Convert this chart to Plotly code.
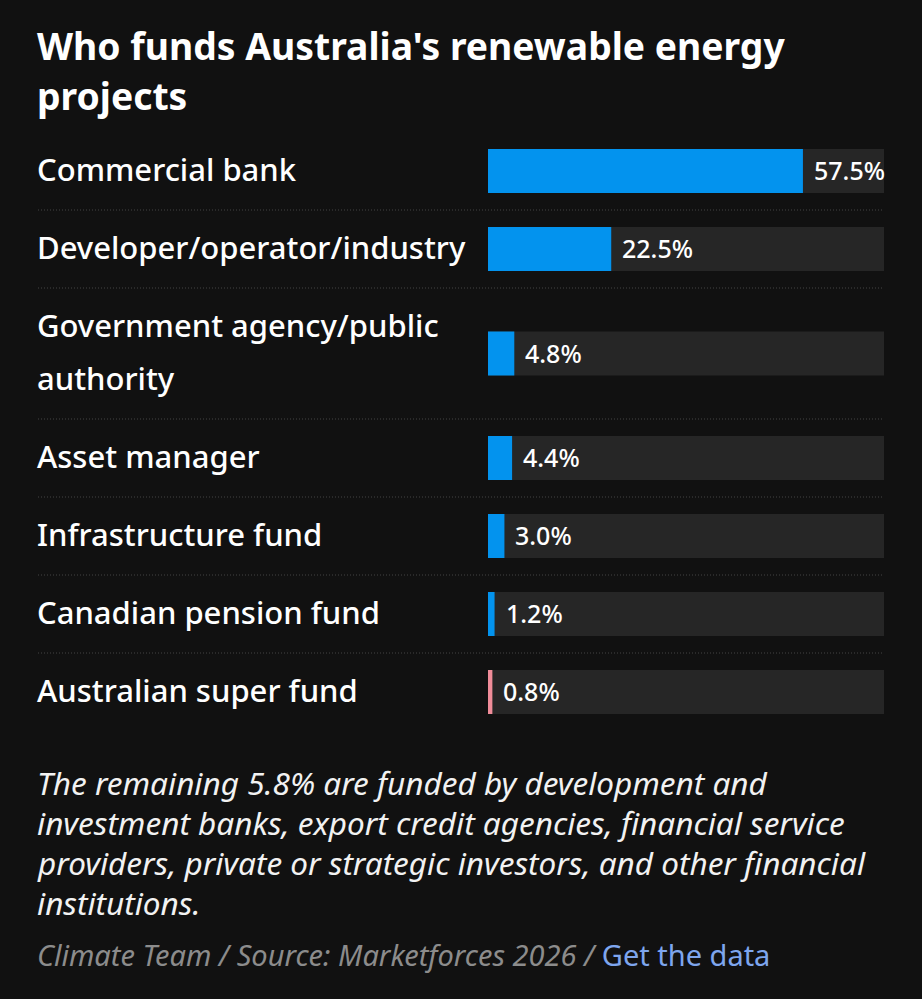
import plotly.graph_objects as go

# ---------------- data ----------------
categories = [
    "Commercial bank",
    "Developer/operator/industry",
    "Government agency/public<br>authority",
    "Asset manager",
    "Infrastructure fund",
    "Canadian pension fund",
    "Australian super fund",
]
shares = [57.5, 22.5, 4.8, 4.4, 3.0, 1.2, 0.8]
value_labels = ["57.5%", "22.5%", "4.8%", "4.4%", "3.0%", "1.2%", "0.8%"]
highlight = "Australian super fund"

title_lines = ["Who funds Australia's renewable energy", "projects"]
note_lines = [
    "The remaining 5.8% are funded by development and",
    "investment banks, export credit agencies, financial service",
    "providers, private or strategic investors, and other financial",
    "institutions.",
]
source_text = "Climate Team / Source: Marketforces 2026 / "
link_text = "Get the data"

# ---------------- layout constants ----------------
W, H = 922, 999
LEFT, RIGHT, TRACK_LEFT = 38, 884, 488
ROWS_TOP = 132
ROW_H, LINE_EXTRA = 78, 53
BAR_T = 44
XMAX = 72.3

BG = "#111111"
TRACK = "#262626"
BLUE = "#0393ee"
PINK = "#f08c99"
FONT = "Noto Sans"
LSHIFT = -3

n_lines = [c.count("<br>") + 1 for c in categories]
heights = [ROW_H + LINE_EXTRA * (k - 1) for k in n_lines]
centers, bounds = [], []
acc = ROWS_TOP
for h in heights:
    centers.append(acc + h / 2)
    acc += h
    bounds.append(acc)
ROWS_BOTTOM = acc
bounds = bounds[:-1]

def py(p):
    return (ROWS_BOTTOM - p) / (ROWS_BOTTOM - ROWS_TOP)

colors = [PINK if c == highlight else BLUE for c in categories]

fig = go.Figure()
fig.add_trace(go.Bar(
    x=[XMAX] * len(categories), y=centers, orientation="h", width=BAR_T,
    marker=dict(color=TRACK, line=dict(width=0)), hoverinfo="skip", showlegend=False,
))
fig.add_trace(go.Bar(
    x=shares, y=centers, orientation="h", width=BAR_T,
    marker=dict(color=colors, line=dict(width=0)), showlegend=False,
    hovertext=[c.replace("<br>", " ") for c in categories], hoverinfo="text+x",
))

annotations = []
# value labels
for v, lab, yc in zip(shares, value_labels, centers):
    annotations.append(dict(
        x=v, y=yc - 1, xref="x", yref="y", text=lab, showarrow=False,
        xanchor="left", yanchor="middle", xshift=9,
        font=dict(family=FONT, size=25, color="white", weight=500),
    ))
# category labels
for c, yc in zip(categories, centers):
    parts = c.split("<br>")
    k = len(parts)
    for i, part in enumerate(parts):
        off = (i - (k - 1) / 2) * LINE_EXTRA
        annotations.append(dict(
            x=0, y=yc - 2 + off, xref="paper", yref="y", text=part, showarrow=False,
            xanchor="left", yanchor="middle", xshift=LSHIFT,
            font=dict(family=FONT, size=31, color="white", weight=500),
        ))
# title
for i, t in enumerate(title_lines):
    annotations.append(dict(
        x=0, y=py(46 + 49 * i), xref="paper", yref="paper", text="<b>" + t + "</b>",
        showarrow=False, xanchor="left", yanchor="middle", xshift=LSHIFT,
        font=dict(family=FONT, size=37.3, color="white"),
    ))
# note
for i, t in enumerate(note_lines):
    annotations.append(dict(
        x=0, y=py(782 + 40 * i), xref="paper", yref="paper", text="<i>" + t + "</i>",
        showarrow=False, xanchor="left", yanchor="middle", xshift=LSHIFT,
        font=dict(family=FONT, size=31.5, color="#f2f2f2"),
    ))
# source
annotations.append(dict(
    x=0, y=py(954), xref="paper", yref="paper",
    text="<i>" + source_text + "</i><span style='color:#7ea6ee'>" + link_text + "</span>",
    showarrow=False, xanchor="left", yanchor="middle", xshift=LSHIFT,
    font=dict(family=FONT, size=29, color="#8c8c8c"),
))

shapes = [
    dict(type="line", xref="paper", yref="y", x0=0, x1=1, y0=b, y1=b,
         line=dict(color="#444444", width=1, dash="1px,2px"))
    for b in bounds
]

fig.update_layout(
    width=W, height=H,
    margin=dict(l=LEFT, r=W - RIGHT, t=ROWS_TOP, b=H - ROWS_BOTTOM, pad=0),
    paper_bgcolor=BG, plot_bgcolor=BG,
    barmode="overlay",
    xaxis=dict(domain=[(TRACK_LEFT - LEFT) / (RIGHT - LEFT), 1], range=[0, XMAX],
               showgrid=False, zeroline=False, showticklabels=False, fixedrange=True),
    yaxis=dict(range=[ROWS_BOTTOM, ROWS_TOP], showgrid=False, zeroline=False,
               showticklabels=False, fixedrange=True),
    annotations=annotations, shapes=shapes,
    font=dict(family=FONT, color="white"),
)

fig.write_html(
    "out.html",
    config={"displayModeBar": False},
    post_script="document.body.style.margin='0';document.body.style.background='#111111';",
)
